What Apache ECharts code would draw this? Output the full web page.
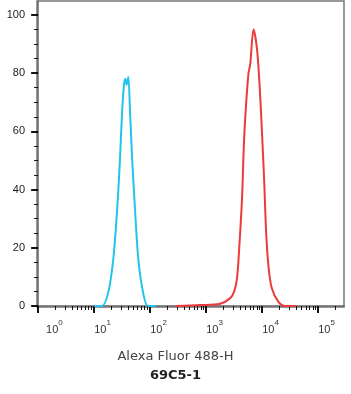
<!DOCTYPE html>
<html>
<head>
<meta charset="utf-8">
<script src="https://cdn.jsdelivr.net/npm/echarts@6/dist/echarts.min.js"></script>
<style>
  html, body { margin: 0; padding: 0; background: #fff; }
  #chart { width: 351px; height: 394px; }
</style>
</head>
<body>
<div id="chart"></div>
<script>
// x values are log10 of intensity
var cyanLog = [1.0, 1.14, 1.25, 1.34, 1.41, 1.46, 1.50, 1.536, 1.56, 1.58, 1.61, 1.64, 1.68, 1.73, 1.79, 1.875, 1.96, 2.1];
var cyanCount = [0, 0, 4.5, 15.8, 33, 50, 67, 76.6, 78, 76, 78.7, 67, 50, 33, 15.8, 4.5, 0, 0];
var redLog = [2.45, 2.89, 3.25, 3.43, 3.50, 3.55, 3.59, 3.64, 3.67, 3.70, 3.755, 3.786, 3.845, 3.905, 3.95, 3.995, 4.036, 4.07, 4.11, 4.17, 4.29, 4.41, 4.6];
var redCount = [0, 0.3, 0.8, 2.7, 5, 9.5, 20, 37, 54, 65.6, 80, 83, 95, 88.7, 77, 60, 42.6, 25.4, 14, 6.2, 1.4, 0, 0];
var xDecades = [0, 1, 2, 3, 4, 5];
var yLabels = [0, 20, 40, 60, 80, 100];
var yMinor = [5, 10, 15, 25, 30, 35, 45, 50, 55, 65, 70, 75, 85, 90, 95];

var xMinor = [];
for (var d = 0; d < 6; d++) {
	for (var k = 2; k <= 9; k++) {
		var v = d + Math.log10(k);
		if (v < 5.46) xMinor.push(v);
	}
}

function pairs(xs, ys) {
	var out = [];
	for (var i = 0; i < xs.length; i++) out.push([xs[i], ys[i]]);
	return out;
}

var chart = echarts.init(document.getElementById('chart'));

var xMin = -0.02, xMax = 5.46, yMin = -0.35, yMax = 104.8;

var option = {
	animation: false,
	grid: {
		left: 37, right: 7, top: 1, bottom: 87,
		show: true,
		borderColor: '#777',
		borderWidth: 1.5
	},
	title: [{
		text: 'Alexa Fluor 488-H',
		left: 'center',
		top: 345,
		textStyle: { fontFamily: 'DejaVu Sans', fontSize: 13, fontWeight: 'normal', color: '#444' }
	}, {
		text: '69C5-1',
		left: 'center',
		top: 364,
		textStyle: { fontFamily: 'DejaVu Sans', fontSize: 13, fontWeight: 'bold', color: '#222' }
	}],
	xAxis: [{
		type: 'value',
		min: xMin, max: xMax,
		axisLine: { show: true, lineStyle: { color: '#666', width: 1.5 } },
		axisTick: { show: true, customValues: xDecades, length: 7, lineStyle: { color: '#111', width: 2 } },
		axisLabel: {
			customValues: xDecades,
			align: 'left',
			margin: 12,
			formatter: function (v) {
				return (v === 0 ? '{b0|10}' : '{b|10}') + '{s|' + v + '}';
			},
			rich: {
				b: { fontFamily: 'Liberation Sans Narrow, Liberation Sans', fontSize: 11, color: '#333', lineHeight: 16, verticalAlign: 'bottom' },
				b0: { fontFamily: 'Liberation Sans Narrow, Liberation Sans', fontSize: 11, color: '#333', lineHeight: 16, verticalAlign: 'bottom', padding: [0, 0, 0, 8] },
				s: { fontFamily: 'Liberation Sans Narrow, Liberation Sans', fontSize: 8, color: '#333', lineHeight: 9, verticalAlign: 'top' }
			}
		},
		splitLine: { show: false }
	}, {
		type: 'value',
		min: xMin, max: xMax,
		position: 'bottom',
		axisLine: { show: false },
		axisTick: { show: true, customValues: xMinor, length: 4, lineStyle: { color: '#111', width: 1 } },
		axisLabel: { show: false },
		splitLine: { show: false }
	}],
	yAxis: [{
		type: 'value',
		min: yMin, max: yMax,
		axisLine: { show: true, lineStyle: { color: '#666', width: 1.5 } },
		axisTick: { show: true, customValues: yLabels, length: 7, lineStyle: { color: '#111', width: 2 } },
		axisLabel: {
			customValues: yLabels,
			margin: 12,
			fontFamily: 'Liberation Sans',
			fontSize: 11,
			color: '#222'
		},
		splitLine: { show: false }
	}, {
		type: 'value',
		min: yMin, max: yMax,
		position: 'left',
		axisLine: { show: false },
		axisTick: { show: true, customValues: yMinor, length: 4, lineStyle: { color: '#111', width: 1 } },
		axisLabel: { show: false },
		splitLine: { show: false }
	}],
	series: [{
		type: 'line',
		data: pairs(redLog, redCount),
		smooth: 0.3,
		symbol: 'none',
		lineStyle: { color: '#ee3a3a', width: 2 }
	}, {
		type: 'line',
		data: pairs(cyanLog, cyanCount),
		smooth: 0.3,
		symbol: 'none',
		lineStyle: { color: '#22c4ee', width: 2 }
	}]
};

chart.setOption(option);
</script>
</body>
</html>
